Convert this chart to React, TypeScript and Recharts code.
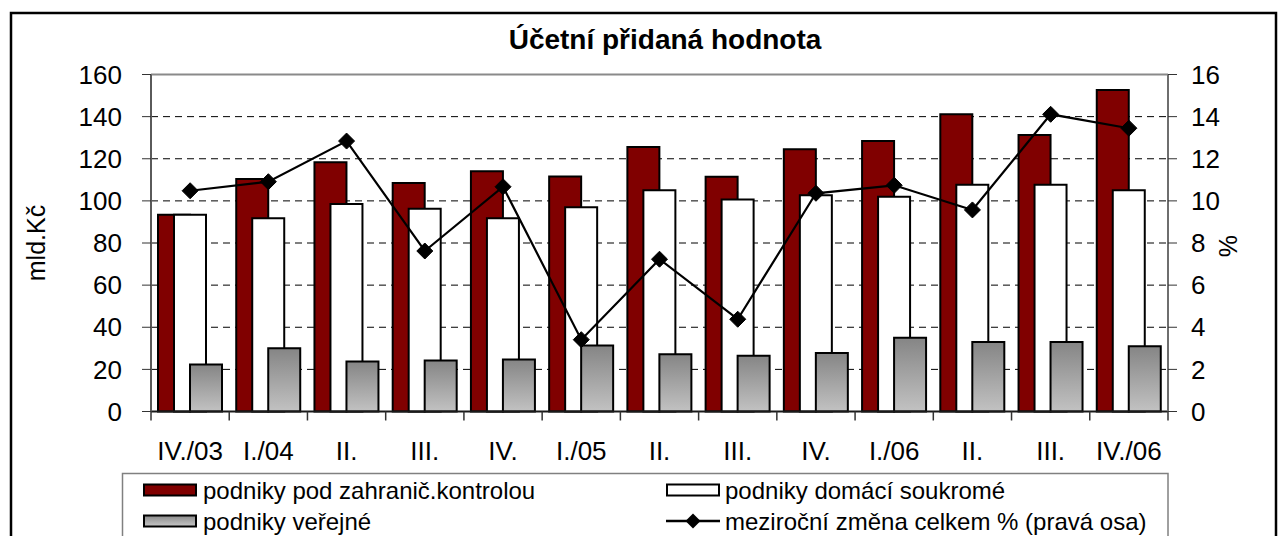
import React from 'react';
import { ComposedChart, Bar, Line, XAxis, YAxis, CartesianGrid, ReferenceLine } from 'recharts';

// ---- data ----
const categories = ['IV./03', 'I./04', 'II.', 'III.', 'IV.', 'I./05', 'II.', 'III.', 'IV.', 'I./06', 'II.', 'III.', 'IV./06'];
const foreignControlled = [93.4, 110.4, 118.3, 108.5, 114.1, 111.6, 125.6, 111.5, 124.5, 128.4, 141.1, 131.3, 152.7];
const domesticPrivate = [93.4, 91.8, 98.5, 96.3, 91.8, 97.0, 105.0, 100.7, 102.7, 102.0, 107.7, 107.7, 105.0];
const publicEnterprises = [22.3, 30.0, 23.7, 24.2, 24.7, 31.3, 27.2, 26.5, 27.8, 35.0, 33.0, 33.0, 31.0];
const yoyChange = [10.48, 10.91, 12.84, 7.62, 10.67, 3.41, 7.23, 4.38, 10.36, 10.74, 9.57, 14.11, 13.45];
const leftTicks = [0, 20, 40, 60, 80, 100, 120, 140, 160];
const rightTicks = [0, 2, 4, 6, 8, 10, 12, 14, 16];

const seriesNames = [
  'podniky pod zahranič.kontrolou',
  'podniky domácí soukromé',
  'podniky veřejné',
  'meziroční změna celkem % (pravá osa)',
];
const title = 'Účetní přidaná hodnota';
const leftAxisTitle = 'mld.Kč';
const rightAxisTitle = '%';

const data = categories.map((c, i) => ({
  idx: String(i),
  foreign: foreignControlled[i],
  domestic: domesticPrivate[i],
  pub: publicEnterprises[i],
  change: yoyChange[i],
}));

// ---- layout ----
const W = 1278;
const H = 536;
const LEFT_AXIS_W = 151;
const RIGHT_AXIS_W = 110;
const PLOT_W = W - LEFT_AXIS_W - RIGHT_AXIS_W;
const BAND = PLOT_W / categories.length;
const FONT = "'Liberation Sans', Arial, Helvetica, sans-serif";

const XTick = (props: any) => {
  const { x, y, payload, index } = props;
  const half = BAND / 2;
  const isLast = index === categories.length - 1;
  return (
    <g>
      <line x1={x - half} x2={x - half} y1={y} y2={y + 9} stroke="#333" strokeWidth={1.5} />
      {isLast && <line x1={x + half} x2={x + half} y1={y} y2={y + 9} stroke="#333" strokeWidth={1.5} />}
      <text x={x} y={y + 48.5} textAnchor="middle" fontSize={26} fontFamily={FONT} fill="#000">
        {categories[Number(payload.value)]}
      </text>
    </g>
  );
};

const Diamond = (props: any) => {
  const { cx, cy, index } = props;
  if (cx == null || cy == null) return <g key={`d-${index}`} />;
  const r = 8;
  return (
    <polygon
      key={`d-${index}`}
      points={`${cx},${cy - r} ${cx + r},${cy} ${cx},${cy + r} ${cx - r},${cy}`}
      fill="#000"
      stroke="#000"
    />
  );
};

export default function App() {
  return (
    <div style={{ position: 'absolute', left: 0, top: 0, width: W, height: H, overflow: 'hidden', background: '#fff' }}>
      <ComposedChart
        width={W}
        height={H}
        data={data}
        margin={{ top: 74.5, right: 0, bottom: 64.5, left: 0 }}
        barSize={32}
        barGap={-16}
      >
        <defs>
          <linearGradient id="grayGrad" x1="0" y1="0" x2="0" y2="1">
            <stop offset="0%" stopColor="#858585" />
            <stop offset="100%" stopColor="#c2c2c2" />
          </linearGradient>
        </defs>
        <CartesianGrid yAxisId="left" vertical={false} stroke="#000" strokeWidth={1} strokeDasharray="7 5" />
        <XAxis
          dataKey="idx"
          height={60}
          tickSize={0}
          tickMargin={0}
          tickLine={false}
          interval={0}
          axisLine={{ stroke: '#1a1a1a', strokeWidth: 2 }}
          tick={<XTick />}
        />
        <YAxis
          yAxisId="left"
          orientation="left"
          width={LEFT_AXIS_W}
          domain={[0, 160]}
          ticks={leftTicks}
          interval={0}
          tickSize={9}
          tickMargin={20}
          axisLine={{ stroke: '#5a5a5a', strokeWidth: 2 }}
          tickLine={{ stroke: '#333', strokeWidth: 1 }}
          tick={{ fill: '#000', fontSize: 26, fontFamily: FONT }}
        />
        <YAxis
          yAxisId="right"
          orientation="right"
          width={RIGHT_AXIS_W}
          domain={[0, 16]}
          ticks={rightTicks}
          interval={0}
          tickSize={9}
          tickMargin={14}
          axisLine={{ stroke: '#6e6e6e', strokeWidth: 2 }}
          tickLine={{ stroke: '#333', strokeWidth: 1 }}
          tick={{ fill: '#000', fontSize: 26, fontFamily: FONT }}
        />
        <ReferenceLine yAxisId="left" y={160} stroke="#8a8a8a" strokeWidth={2} />
        <Bar yAxisId="left" dataKey="foreign" name={seriesNames[0]} fill="#800000" stroke="#000" strokeWidth={2} isAnimationActive={false} />
        <Bar yAxisId="left" dataKey="domestic" name={seriesNames[1]} fill="#ffffff" stroke="#000" strokeWidth={2} isAnimationActive={false} />
        <Bar yAxisId="left" dataKey="pub" name={seriesNames[2]} fill="url(#grayGrad)" stroke="#000" strokeWidth={2} isAnimationActive={false} />
        <Line
          yAxisId="right"
          dataKey="change"
          name={seriesNames[3]}
          stroke="#000"
          strokeWidth={2.2}
          dot={Diamond}
          activeDot={false}
          isAnimationActive={false}
        />
      </ComposedChart>

      <svg
        width={W}
        height={H}
        style={{ position: 'absolute', left: 0, top: 0, pointerEvents: 'none' }}
      >
        <defs>
          <linearGradient id="grayGradLegend" x1="0" y1="0" x2="0" y2="1">
            <stop offset="0%" stopColor="#8a8a8a" />
            <stop offset="100%" stopColor="#c8c8c8" />
          </linearGradient>
        </defs>
        {/* outer frame */}
        <rect x={11} y={13} width={1265} height={600} fill="none" stroke="#000" strokeWidth={2.5} />
        {/* title */}
        <text x={665} y={49} textAnchor="middle" fontSize={28} fontWeight="bold" fontFamily={FONT} fill="#000">
          {title}
        </text>
        {/* axis titles */}
        <text
          x={36}
          y={243}
          transform="rotate(-90 36 243)"
          textAnchor="middle"
          dominantBaseline="central"
          fontSize={25}
          fontFamily={FONT}
          fill="#000"
        >
          {leftAxisTitle}
        </text>
        <text
          x={1228}
          y={246}
          transform="rotate(-90 1228 246)"
          textAnchor="middle"
          dominantBaseline="central"
          fontSize={25}
          fontFamily={FONT}
          fill="#000"
        >
          {rightAxisTitle}
        </text>
        {/* legend */}
        <rect x={122.5} y={473.5} width={1045.5} height={120} fill="#fff" stroke="#808080" strokeWidth={1.5} />
        <rect x={144} y={484.5} width={52} height={11} fill="#800000" stroke="#000" strokeWidth={2} />
        <text x={203} y={498.5} fontSize={24} fontFamily={FONT} fill="#000">{seriesNames[0]}</text>
        <rect x={667} y={484.5} width={52} height={11} fill="#fff" stroke="#000" strokeWidth={2} />
        <text x={725} y={498.5} fontSize={24} fontFamily={FONT} fill="#000">{seriesNames[1]}</text>
        <rect x={144} y={515.5} width={52} height={11} fill="url(#grayGradLegend)" stroke="#000" strokeWidth={2} />
        <text x={203} y={529.5} fontSize={24} fontFamily={FONT} fill="#000">{seriesNames[2]}</text>
        <line x1={666} x2={720} y1={521} y2={521} stroke="#000" strokeWidth={2.5} />
        <polygon points="693,513.5 700.5,521 693,528.5 685.5,521" fill="#000" />
        <text x={725} y={529.5} fontSize={24} fontFamily={FONT} fill="#000">{seriesNames[3]}</text>
      </svg>
    </div>
  );
}
